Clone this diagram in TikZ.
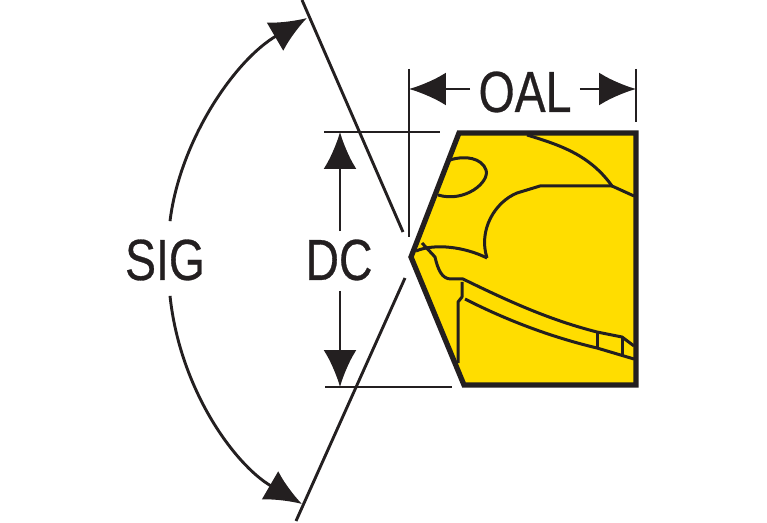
\documentclass[tikz,border=0pt]{standalone}
\usepackage{fontspec}
\setmainfont[FakeStretch=0.8,FakeBold=0.5]{Liberation Sans}
\usetikzlibrary{arrows.meta}
\definecolor{inkdark}{HTML}{231F20}
\definecolor{insertyellow}{HTML}{FFDD00}
\tikzset{
	dimline/.style={inkdark,line width=0.058cm},
	bigtip/.style={-{Latex[length=0.74cm,width=0.66cm]}},
	edgeline/.style={inkdark,line width=0.06cm,line join=round},
	label/.style={text=inkdark,font=\fontsize{33}{33}\selectfont,inner sep=0pt},
}

\begin{document}
\begin{tikzpicture}[x=0.02cm,y=-0.02cm]
		\useasboundingbox (0, 0) rectangle (767, 523);

		% insert body
		\draw[fill=insertyellow,draw=inkdark,line width=0.105cm,line join=miter] (459, 133) -- (636, 133) -- (636, 385) -- (464, 385) -- (411, 257) -- cycle;
		\draw[edgeline] (527, 135) .. controls (560, 145) and (590, 155) .. (612, 186) -- (634, 196);
		\draw[edgeline] (612, 186) -- (540, 186) -- (517, 193) .. controls (495, 202) and (478, 230) .. (487, 258);
		\draw[edgeline] (450, 160) .. controls (465, 155) and (482, 158) .. (486, 170) .. controls (490, 182) and (465, 203) .. (438, 195);
		\draw[edgeline] (487, 258) .. controls (465, 247) and (435, 243) .. (416, 251);
		\draw[edgeline] (422, 243) -- (435, 257) .. controls (438, 270) and (442, 279) .. (451, 279) -- (463, 279) .. controls (510, 302) and (550, 320) .. (597, 332) -- (622, 337) -- (634, 346);
		\draw[edgeline] (462, 282) -- (462, 297) -- (458, 302) -- (458, 363);
		\draw[edgeline] (465, 299) .. controls (510, 322) and (555, 338) .. (597, 348) -- (634, 359);
		\draw[edgeline] (597, 332) -- (597, 348);
		\draw[edgeline] (622, 337) -- (622, 356);

		% dimension lines
		\draw[dimline] (302, 0) -- (403, 232);
		\draw[dimline] (296, 521) -- (405, 278);
		\draw[dimline] (324, 132) -- (440, 132);
		\draw[dimline] (325, 387) -- (452, 387);
		\draw[dimline] (409, 69) -- (409, 237);
		\draw[dimline] (636, 69) -- (636, 122);

		% labels
		\node[label] (oal) at (525, 92) {OAL};
		\node[label] (dc) at (339, 260) {DC};
		\node[label] (sig) at (165, 260) {SIG};

		\coordinate (oalleft) at (409, 89);
		\coordinate (oalright) at (636, 89);
		\coordinate (dctop) at (340, 132);
		\coordinate (dcbottom) at (340, 387);
		\coordinate (sigtop) at (307, 18);
		\coordinate (sigbottom) at (302, 504);

		% arrows
		\draw[dimline,bigtip] (oal.west) ++(-8, -3) -- (oalleft);
		\draw[dimline,bigtip] (oal.east) ++(8, -3) -- (oalright);
		\draw[dimline,bigtip] (dc.north) ++(1, -8) -- (dctop);
		\draw[dimline,bigtip] (dc.south) ++(1, 10) -- (dcbottom);
		\draw[dimline,bigtip] (sig.north) ++(5, -18) .. controls (180, 140) and (235, 60) .. (sigtop);
		\draw[dimline,bigtip] (sig.south) ++(5, 15) .. controls (180, 390) and (235, 465) .. (sigbottom);
	\end{tikzpicture}
\end{document}
